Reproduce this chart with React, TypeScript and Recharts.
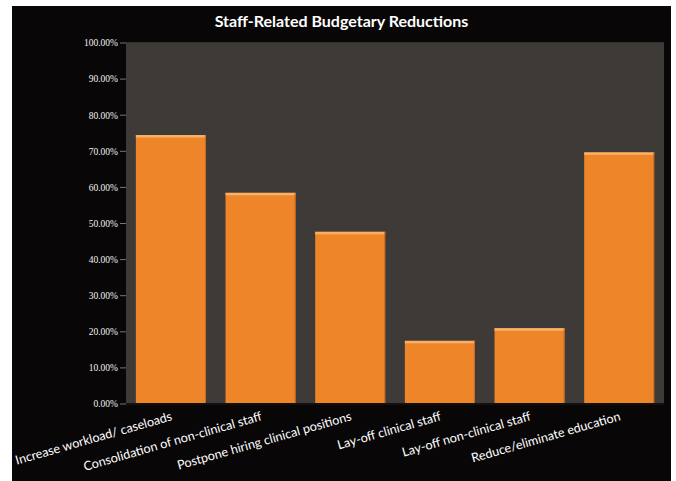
import { BarChart, Bar, XAxis, YAxis, CartesianGrid } from "recharts"

const categories = [
  "Increase workload/ caseloads",
  "Consolidation of non-clinical staff",
  "Postpone hiring clinical positions",
  "Lay-off clinical staff",
  "Lay-off non-clinical staff",
  "Reduce/eliminate education",
]
const shares = [0.745, 0.585, 0.477, 0.175, 0.21, 0.697]
const yTicks = [0, 0.1, 0.2, 0.3, 0.4, 0.5, 0.6, 0.7, 0.8, 0.9, 1]

const data = categories.map((name, i) => ({ name, value: shares[i] }))

const BarShape = (props: any) => {
  const { x, y, width, height } = props
  if (!height || height <= 0) return null
  return (
    <g>
      <rect x={x} y={y} width={width} height={height} fill="#ef8529" />
      <rect x={x} y={y} width={width} height={2.5} fill="#f8b068" />
      <rect x={x + width - 1} y={y} width={1} height={height} fill="#c96a1f" />
    </g>
  )
}

const XTick = (props: any) => {
  const { x, y, payload } = props
  const ax = x + 2
  const ay = y + 8
  return (
    <text
      x={ax}
      y={ay}
      transform={`rotate(-16, ${ax}, ${ay})`}
      textAnchor="end"
      fill="#ffffff"
      fontSize={12.6}
      fontFamily="Lato, 'Open Sans', sans-serif"
    >
      {payload.value}
    </text>
  )
}

export default function App() {
  return (
    <div
      style={{
        position: "absolute",
        left: 12,
        top: 6,
        width: 659,
        height: 475,
        background: "#080607",
      }}
    >
      <div
        style={{
          position: "absolute",
          top: 5,
          width: "100%",
          textAlign: "center",
          color: "#ffffff",
          fontFamily: "Lato, 'Open Sans', sans-serif",
          fontWeight: 700,
          fontSize: 16,
        }}
      >
        Staff-Related Budgetary Reductions
      </div>
      <BarChart
        width={659}
        height={475}
        data={data}
        margin={{ top: 37, right: 7, bottom: 0, left: 0 }}
        barCategoryGap="11%"
      >
        <rect x={114} y={37} width={538} height={361} fill="#3d3a38" />
        <CartesianGrid
          vertical={false}
          stroke="#605d5b"
          strokeWidth={1}
        />
        <XAxis
          dataKey="name"
          interval={0}
          height={77}
          tick={<XTick />}
          tickLine={false}
          axisLine={{ stroke: "#111", strokeWidth: 2 }}
        />
        <YAxis
          width={114}
          domain={[0, 1]}
          ticks={yTicks}
          tickFormatter={(v: number) => `${(v * 100).toFixed(2)}%`}
          tick={{
            fill: "#f2f2f2",
            fontSize: 9.5,
            fontFamily: "'Liberation Serif', serif",
          }}
          tickLine={{ stroke: "#777" }}
          tickSize={6}
          axisLine={false}
        />
        <Bar
          dataKey="value"
          shape={<BarShape />}
          isAnimationActive={false}
        />
      </BarChart>
    </div>
  )
}
